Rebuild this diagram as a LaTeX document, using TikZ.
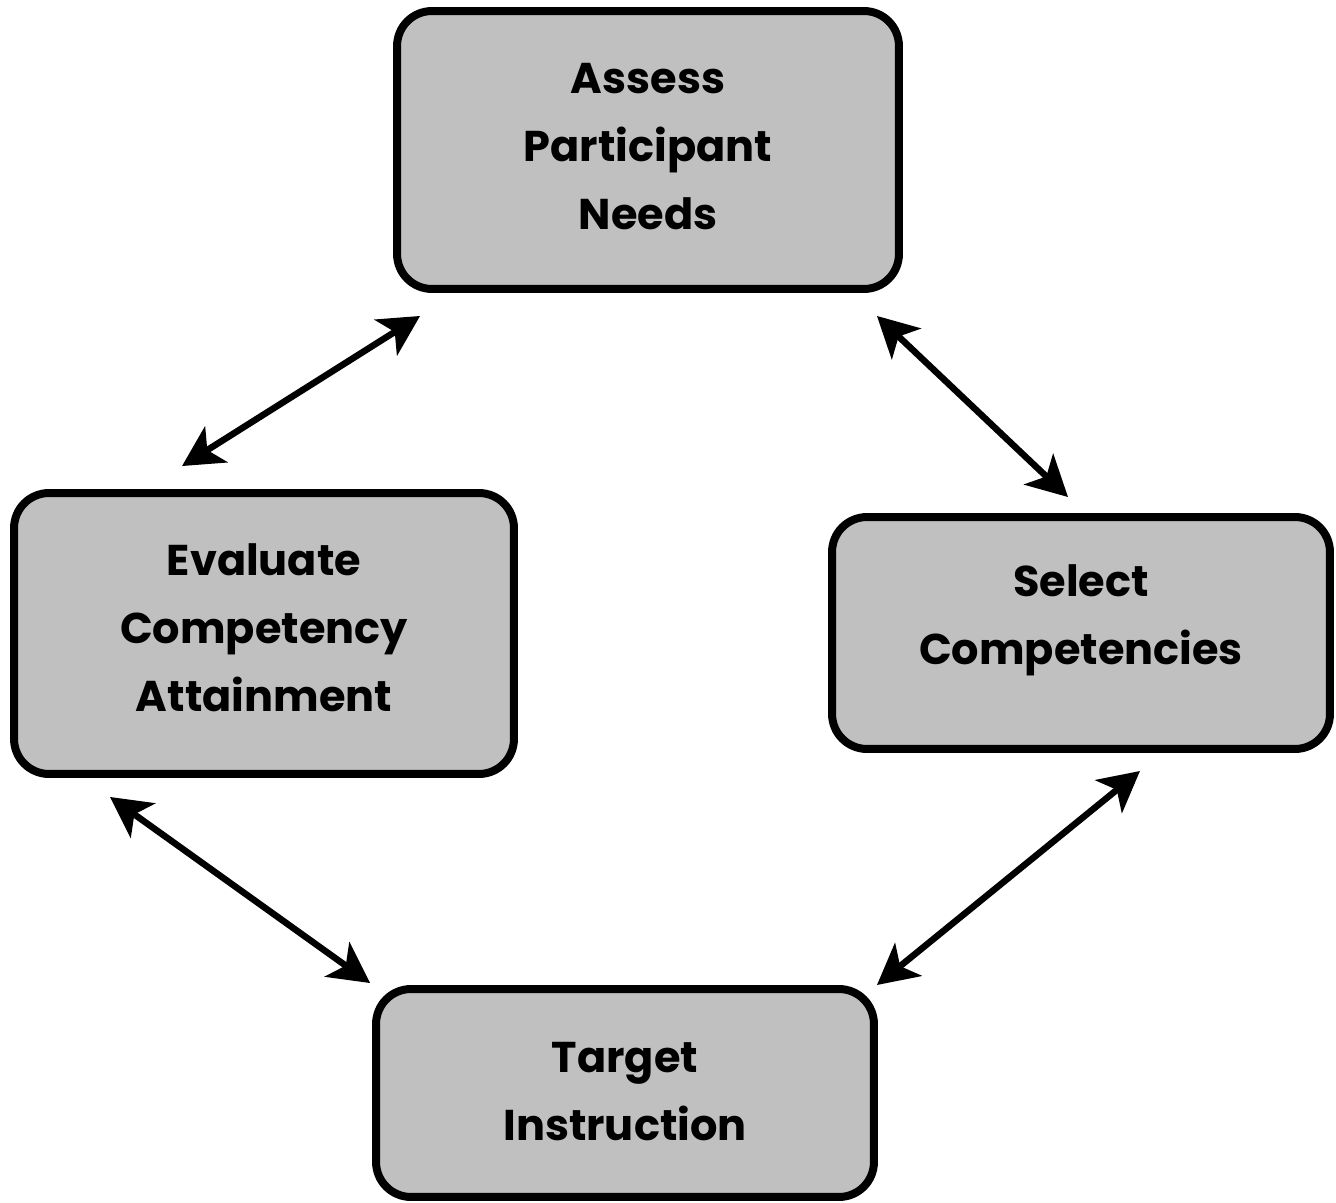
\documentclass[tikz,border=0pt]{standalone}
\usepackage{fontspec}
\setmainfont{Poppins}
\usetikzlibrary{arrows.meta}
\definecolor{boxgray}{HTML}{C0C0C0}
\tikzset{
  stagebox/.style={draw=black, line width=4.55pt, fill=boxgray, rounded corners=0.7cm, outer sep=0pt, inner sep=0pt},
  stagetext/.style={align=center, font=\bfseries\fontsize{24.5}{38.7}\selectfont, inner sep=0pt},
  link/.style={line width=3.7pt, {Stealth[length=23pt,width=24pt,inset=6pt]}-{Stealth[length=23pt,width=24pt,inset=6pt]}}
}
\begin{document}
\begin{tikzpicture}[x=0.02cm,y=-0.02cm]
\useasboundingbox (0,0) rectangle (1336,1203);
\node[stagebox, minimum width=10.04cm, minimum height=5.56cm] (top) at (648,150) {};
\node[stagebox, minimum width=10cm, minimum height=5.62cm] (left) at (264,633.5) {};
\node[stagebox, minimum width=9.96cm, minimum height=4.64cm] (right) at (1081,633) {};
\node[stagebox, minimum width=9.96cm, minimum height=4.16cm] (bottom) at (625,1093) {};
\node[stagetext] (toptext) at (648,147) {Assess\\Participant\\Needs};
\node[stagetext] (lefttext) at (264,628) {Evaluate\\Competency\\Attainment};
\node[stagetext] (righttext) at (1081,620) {Select\\Competencies};
\node[stagetext] (bottomtext) at (625,1092) {Target\\Instruction};
\draw[link] ([xshift=-1.64cm,yshift=0.54cm]left.north) -- ([xshift=-4.56cm,yshift=-0.54cm]top.south);
\draw[link] ([xshift=4.58cm,yshift=-0.54cm]top.south) -- ([xshift=-0.26cm,yshift=0.4cm]right.north);
\draw[link] ([xshift=1.18cm,yshift=-0.44cm]right.south) -- ([xshift=5.04cm,yshift=0.08cm]bottom.north);
\draw[link] ([xshift=-3.08cm,yshift=-0.46cm]left.south) -- ([xshift=-5.1cm,yshift=0.12cm]bottom.north);
\end{tikzpicture}
\end{document}
